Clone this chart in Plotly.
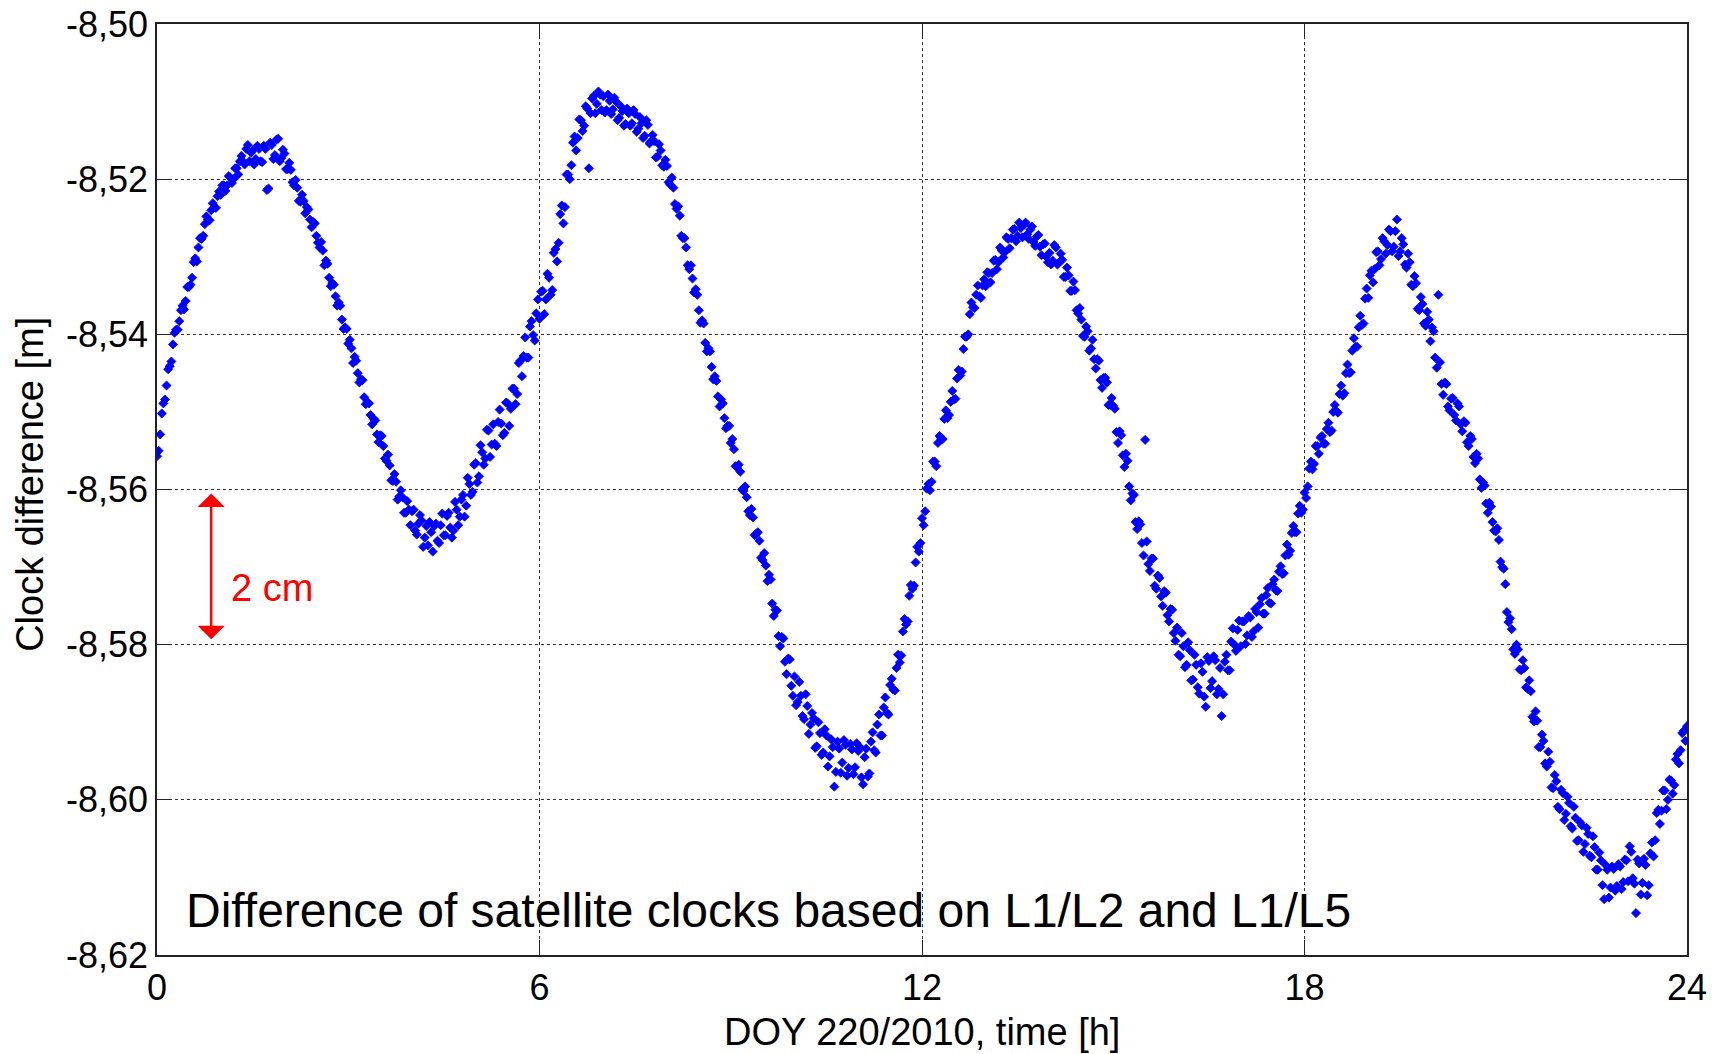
import plotly.graph_objects as go

# Sample spacing of the clock-difference series (hours)
SAMPLE_STEP_H = 0.05
OFFSET_B_H = 0.025

# Clock difference [m], epochs 0.00, 0.05, 0.10 ... h
clock_00_06 = [
    -8.5557, -8.5529, -8.5489, -8.5466, -8.5441, -8.5413, -8.5394, -8.5383, -8.5363, -8.5357,
    -8.5339, -8.5327, -8.5302, -8.5288, -8.5277, -8.5258, -8.5252, -8.5240, -8.5236, -8.5222,
    -8.5220, -8.5208, -8.5208, -8.5198, -8.5200, -8.5186, -8.5177, -8.5177, -8.5161, -8.5177,
    -8.5163, -8.5174, -8.5161, -8.5178, -8.5161, -8.5212, -8.5156, -8.5169, -8.5148, -8.5173,
    -8.5167, -8.5187, -8.5188, -8.5208, -8.5211, -8.5229, -8.5228, -8.5236, -8.5252, -8.5255,
    -8.5273, -8.5288, -8.5292, -8.5305, -8.5327, -8.5334, -8.5351, -8.5359, -8.5381, -8.5391,
    -8.5412, -8.5418, -8.5429, -8.5450, -8.5458, -8.5481, -8.5487, -8.5504, -8.5509, -8.5529,
    -8.5530, -8.5544, -8.5563, -8.5569, -8.5589, -8.5590, -8.5609, -8.5610, -8.5630, -8.5626,
    -8.5628, -8.5653, -8.5644, -8.5640, -8.5662, -8.5672, -8.5655, -8.5647, -8.5666, -8.5646,
    -8.5659, -8.5634, -8.5649, -8.5653, -8.5626, -8.5635, -8.5607, -8.5621, -8.5593, -8.5603,
    -8.5566, -8.5583, -8.5552, -8.5560, -8.5524, -8.5542, -8.5541, -8.5513, -8.5515, -8.5527,
    -8.5489, -8.5496, -8.5470, -8.5477, -8.5434, -8.5428, -8.5430, -8.5390, -8.5401, -8.5373,
]
clock_06_12 = [
    -8.5380, -8.5344, -8.5355, -8.5327, -8.5343, -8.5290, -8.5282, -8.5234, -8.5236, -8.5194,
    -8.5182, -8.5145, -8.5147, -8.5124, -8.5131, -8.5109, -8.5115, -8.5093, -8.5103, -8.5091,
    -8.5093, -8.5111, -8.5099, -8.5110, -8.5100, -8.5121, -8.5112, -8.5129, -8.5115, -8.5128,
    -8.5116, -8.5135, -8.5128, -8.5144, -8.5130, -8.5151, -8.5151, -8.5171, -8.5163, -8.5184,
    -8.5183, -8.5207, -8.5211, -8.5238, -8.5247, -8.5276, -8.5288, -8.5316, -8.5328, -8.5342,
    -8.5369, -8.5382, -8.5411, -8.5418, -8.5442, -8.5454, -8.5480, -8.5484, -8.5508, -8.5518,
    -8.5540, -8.5548, -8.5571, -8.5577, -8.5602, -8.5610, -8.5633, -8.5636, -8.5657, -8.5666,
    -8.5691, -8.5698, -8.5710, -8.5747, -8.5755, -8.5789, -8.5790, -8.5822, -8.5818, -8.5853,
    -8.5841, -8.5874, -8.5866, -8.5896, -8.5879, -8.5903, -8.5895, -8.5931, -8.5914, -8.5939,
    -8.5917, -8.5944, -8.5932, -8.5964, -8.5934, -8.5952, -8.5929, -8.5959, -8.5935, -8.5958,
    -8.5937, -8.5971, -8.5945, -8.5970, -8.5925, -8.5936, -8.5903, -8.5917, -8.5881, -8.5888,
    -8.5852, -8.5858, -8.5830, -8.5823, -8.5783, -8.5774, -8.5737, -8.5728, -8.5694, -8.5680,
]
clock_12_18 = [
    -8.5637, -8.5628, -8.5593, -8.5590, -8.5564, -8.5540, -8.5535, -8.5509, -8.5508, -8.5487,
    -8.5484, -8.5457, -8.5453, -8.5419, -8.5403, -8.5374, -8.5365, -8.5349, -8.5351, -8.5337,
    -8.5338, -8.5321, -8.5321, -8.5304, -8.5307, -8.5292, -8.5294, -8.5277, -8.5276, -8.5264,
    -8.5273, -8.5263, -8.5259, -8.5271, -8.5265, -8.5281, -8.5274, -8.5287, -8.5284, -8.5300,
    -8.5295, -8.5305, -8.5288, -8.5307, -8.5304, -8.5326, -8.5324, -8.5344, -8.5343, -8.5373,
    -8.5381, -8.5403, -8.5396, -8.5418, -8.5432, -8.5432, -8.5459, -8.5456, -8.5462, -8.5491,
    -8.5492, -8.5526, -8.5525, -8.5556, -8.5554, -8.5596, -8.5605, -8.5642, -8.5641, -8.5669,
    -8.5536, -8.5696, -8.5689, -8.5724, -8.5711, -8.5738, -8.5731, -8.5762, -8.5754, -8.5785,
    -8.5778, -8.5815, -8.5802, -8.5826, -8.5807, -8.5845, -8.5826, -8.5863, -8.5835, -8.5880,
    -8.5821, -8.5847, -8.5820, -8.5857, -8.5892, -8.5822, -8.5833, -8.5796, -8.5800, -8.5781,
    -8.5802, -8.5770, -8.5788, -8.5765, -8.5783, -8.5758, -8.5748, -8.5760, -8.5736, -8.5746,
    -8.5722, -8.5730, -8.5706, -8.5709, -8.5685, -8.5684, -8.5656, -8.5655, -8.5631, -8.5630,
]
clock_18_24 = [
    -8.5604, -8.5596, -8.5564, -8.5567, -8.5544, -8.5533, -8.5541, -8.5522, -8.5526, -8.5500,
    -8.5499, -8.5477, -8.5479, -8.5450, -8.5450, -8.5421, -8.5416, -8.5391, -8.5388, -8.5354,
    -8.5353, -8.5318, -8.5316, -8.5293, -8.5303, -8.5280, -8.5285, -8.5267, -8.5287, -8.5252,
    -8.5293, -8.5284, -8.5314, -8.5307, -8.5338, -8.5334, -8.5369, -8.5361, -8.5389, -8.5381,
    -8.5391, -8.5430, -8.5349, -8.5464, -8.5462, -8.5493, -8.5483, -8.5504, -8.5489, -8.5516,
    -8.5512, -8.5539, -8.5531, -8.5558, -8.5554, -8.5587, -8.5591, -8.5618, -8.5617, -8.5642,
    -8.5654, -8.5665, -8.5700, -8.5722, -8.5771, -8.5780, -8.5812, -8.5806, -8.5833, -8.5830,
    -8.5857, -8.5860, -8.5899, -8.5898, -8.5932, -8.5924, -8.5957, -8.5951, -8.5985, -8.5976,
    -8.6012, -8.5991, -8.6018, -8.6004, -8.6037, -8.6023, -8.6052, -8.6033, -8.6057, -8.6044,
    -8.6074, -8.6061, -8.6090, -8.6078, -8.6128, -8.6090, -8.6113, -8.6089, -8.6111, -8.6086,
    -8.6106, -8.6078, -8.6060, -8.6101, -8.6146, -8.6082, -8.6107, -8.6084, -8.6110, -8.6055,
    -8.6052, -8.6013, -8.6014, -8.5988, -8.6000, -8.5975, -8.5981, -8.5941, -8.5936, -8.5911,
    -8.5905,
]

# Clock difference [m], epochs 0.025, 0.075, 0.125 ... h
clock_b_00_06 = [
    -8.5550, -8.5502, -8.5484, -8.5445, -8.5435, -8.5398, -8.5394, -8.5369, -8.5368, -8.5339,
    -8.5336, -8.5307, -8.5306, -8.5276, -8.5273, -8.5248, -8.5253, -8.5231, -8.5237, -8.5216,
    -8.5208, -8.5215, -8.5196, -8.5205, -8.5186, -8.5194, -8.5170, -8.5181, -8.5156, -8.5166,
    -8.5181, -8.5157, -8.5177, -8.5157, -8.5214, -8.5153, -8.5174, -8.5149, -8.5177, -8.5162,
    -8.5187, -8.5179, -8.5204, -8.5201, -8.5228, -8.5220, -8.5244, -8.5239, -8.5262, -8.5257,
    -8.5282, -8.5281, -8.5311, -8.5309, -8.5338, -8.5336, -8.5363, -8.5363, -8.5393, -8.5393,
    -8.5407, -8.5437, -8.5434, -8.5462, -8.5459, -8.5490, -8.5489, -8.5516, -8.5511, -8.5539,
    -8.5531, -8.5560, -8.5555, -8.5588, -8.5580, -8.5613, -8.5601, -8.5630, -8.5615, -8.5646,
    -8.5626, -8.5658, -8.5633, -8.5674, -8.5647, -8.5642, -8.5680, -8.5644, -8.5669, -8.5631,
    -8.5659, -8.5630, -8.5662, -8.5616, -8.5646, -8.5613, -8.5635, -8.5585, -8.5607, -8.5568,
    -8.5591, -8.5543, -8.5568, -8.5523, -8.5558, -8.5516, -8.5544, -8.5497, -8.5530, -8.5488,
    -8.5518, -8.5470, -8.5490, -8.5437, -8.5454, -8.5404, -8.5430, -8.5383, -8.5408, -8.5355,
]
clock_b_06_12 = [
    -8.5345, -8.5374, -8.5322, -8.5349, -8.5295, -8.5306, -8.5245, -8.5257, -8.5194, -8.5200,
    -8.5153, -8.5163, -8.5123, -8.5138, -8.5106, -8.5186, -8.5096, -8.5115, -8.5087, -8.5111,
    -8.5114, -8.5091, -8.5116, -8.5095, -8.5124, -8.5106, -8.5131, -8.5109, -8.5131, -8.5111,
    -8.5139, -8.5120, -8.5147, -8.5124, -8.5154, -8.5143, -8.5172, -8.5155, -8.5182, -8.5175,
    -8.5204, -8.5198, -8.5232, -8.5235, -8.5273, -8.5276, -8.5311, -8.5311, -8.5346, -8.5349,
    -8.5385, -8.5386, -8.5422, -8.5422, -8.5458, -8.5460, -8.5493, -8.5489, -8.5521, -8.5518,
    -8.5535, -8.5570, -8.5568, -8.5600, -8.5596, -8.5628, -8.5625, -8.5659, -8.5655, -8.5688,
    -8.5682, -8.5718, -8.5716, -8.5763, -8.5756, -8.5802, -8.5792, -8.5838, -8.5819, -8.5866,
    -8.5878, -8.5848, -8.5892, -8.5864, -8.5915, -8.5888, -8.5933, -8.5900, -8.5942, -8.5909,
    -8.5957, -8.5922, -8.5983, -8.5925, -8.5965, -8.5923, -8.5969, -8.5928, -8.5967, -8.5927,
    -8.5932, -8.5980, -8.5934, -8.5966, -8.5913, -8.5939, -8.5890, -8.5917, -8.5868, -8.5890,
    -8.5844, -8.5859, -8.5813, -8.5814, -8.5767, -8.5770, -8.5723, -8.5724, -8.5674, -8.5669,
]
clock_b_12_18 = [
    -8.5646, -8.5599, -8.5601, -8.5564, -8.5570, -8.5531, -8.5535, -8.5498, -8.5504, -8.5473,
    -8.5483, -8.5446, -8.5448, -8.5403, -8.5400, -8.5359, -8.5366, -8.5337, -8.5353, -8.5329,
    -8.5320, -8.5333, -8.5305, -8.5316, -8.5288, -8.5301, -8.5275, -8.5289, -8.5265, -8.5280,
    -8.5256, -8.5275, -8.5256, -8.5277, -8.5261, -8.5286, -8.5272, -8.5298, -8.5283, -8.5307,
    -8.5310, -8.5285, -8.5310, -8.5296, -8.5326, -8.5314, -8.5344, -8.5332, -8.5369, -8.5366,
    -8.5402, -8.5390, -8.5421, -8.5407, -8.5444, -8.5434, -8.5469, -8.5456, -8.5491, -8.5482,
    -8.5496, -8.5540, -8.5530, -8.5571, -8.5563, -8.5614, -8.5607, -8.5651, -8.5645, -8.5685,
    -8.5667, -8.5705, -8.5689, -8.5728, -8.5714, -8.5750, -8.5733, -8.5770, -8.5755, -8.5795,
    -8.5813, -8.5785, -8.5829, -8.5797, -8.5846, -8.5813, -8.5855, -8.5824, -8.5867, -8.5816,
    -8.5856, -8.5815, -8.5864, -8.5830, -8.5864, -8.5813, -8.5833, -8.5779, -8.5808, -8.5769,
    -8.5770, -8.5799, -8.5763, -8.5790, -8.5754, -8.5778, -8.5740, -8.5760, -8.5727, -8.5747,
    -8.5716, -8.5731, -8.5699, -8.5708, -8.5671, -8.5679, -8.5647, -8.5655, -8.5621, -8.5626,
]
clock_b_18_24 = [
    -8.5611, -8.5573, -8.5574, -8.5544, -8.5554, -8.5531, -8.5541, -8.5514, -8.5524, -8.5491,
    -8.5501, -8.5466, -8.5476, -8.5439, -8.5449, -8.5405, -8.5416, -8.5376, -8.5386, -8.5341,
    -8.5324, -8.5333, -8.5294, -8.5311, -8.5276, -8.5296, -8.5265, -8.5293, -8.5267, -8.5299,
    -8.5276, -8.5310, -8.5296, -8.5336, -8.5325, -8.5367, -8.5352, -8.5386, -8.5371, -8.5409,
    -8.5396, -8.5443, -8.5436, -8.5478, -8.5464, -8.5498, -8.5482, -8.5511, -8.5493, -8.5525,
    -8.5514, -8.5544, -8.5535, -8.5566, -8.5560, -8.5598, -8.5595, -8.5630, -8.5622, -8.5653,
    -8.5650, -8.5693, -8.5702, -8.5758, -8.5766, -8.5806, -8.5800, -8.5832, -8.5820, -8.5855,
    -8.5846, -8.5893, -8.5886, -8.5932, -8.5916, -8.5953, -8.5938, -8.5984, -8.5968, -8.6009,
    -8.5987, -8.6026, -8.5996, -8.6034, -8.6009, -8.6053, -8.6029, -8.6067, -8.6036, -8.6072,
    -8.6047, -8.6090, -8.6068, -8.6110, -8.6084, -8.6126, -8.6086, -8.6117, -8.6083, -8.6115,
    -8.6077, -8.6105, -8.6067, -8.6108, -8.6077, -8.6122, -8.6076, -8.6123, -8.6069, -8.6073,
    -8.6017, -8.6031, -8.5988, -8.6012, -8.5974, -8.5992, -8.5948, -8.5953, -8.5914, -8.5924,
]

x_ticks = [0, 6, 12, 18, 24]
y_ticks = [-8.62, -8.60, -8.58, -8.56, -8.54, -8.52, -8.50]
y_tick_labels = ["-8,62", "-8,60", "-8,58", "-8,56", "-8,54", "-8,52", "-8,50"]
x_title = "DOY 220/2010, time [h]"
y_title = "Clock difference [m]"
caption = "Difference of satellite clocks based on L1/L2 and L1/L5"
scale_label = "2 cm"
scale_top, scale_bottom = -8.56, -8.58

clock_a = clock_00_06 + clock_06_12 + clock_12_18 + clock_18_24
clock_b = clock_b_00_06 + clock_b_06_12 + clock_b_12_18 + clock_b_18_24
hours_a = [i * SAMPLE_STEP_H for i in range(len(clock_a))]
hours_b = [OFFSET_B_H + i * SAMPLE_STEP_H for i in range(len(clock_b))]
hours = hours_a + hours_b
clock = clock_a + clock_b

FONT = "Liberation Sans, Arial, sans-serif"

fig = go.Figure()
fig.add_trace(go.Scatter(
    x=hours, y=clock, mode="markers",
    marker=dict(symbol="diamond", size=7, color="rgb(0,0,255)",
                line=dict(width=0.8, color="rgb(0,0,255)")),
    showlegend=False, hoverinfo="x+y",
))

axis_common = dict(
    showline=True, linecolor="#222", linewidth=1.5, mirror="ticks",
    ticks="inside", ticklen=15, tickwidth=1.2, tickcolor="#222",
    showgrid=True, gridcolor="#333", griddash="dot", gridwidth=1,
    zeroline=False, automargin=False, ticklabeloverflow="allow",
    tickfont=dict(family=FONT, size=36, color="black"),
)

fig.update_xaxes(range=[0, 24], tickvals=x_ticks, ticktext=[str(v) for v in x_ticks],
                 **axis_common)
fig.update_yaxes(range=[-8.62, -8.50], tickvals=y_ticks, ticktext=y_tick_labels,
                 **axis_common)

annotations = [
    dict(x=0.5, y=-0.083, xref="paper", yref="paper", text=x_title, showarrow=False,
         xanchor="center", yanchor="middle", font=dict(family=FONT, size=38, color="black")),
    dict(x=-0.083, y=0.505, xref="paper", yref="paper", text=y_title, showarrow=False,
         textangle=-90, xanchor="center", yanchor="middle",
         font=dict(family=FONT, size=38, color="black")),
    dict(x=0.42, y=-8.6143, xref="x", yref="y", text=caption, showarrow=False,
         xanchor="left", yanchor="middle", font=dict(family=FONT, size=48, color="black")),
    dict(x=1.13, y=-8.5727, xref="x", yref="y", text=scale_label, showarrow=False,
         xanchor="left", yanchor="middle", font=dict(family=FONT, size=38, color="red")),
    dict(x=0.85, y=scale_top - 0.0005, ax=0.85, ay=scale_bottom + 0.0005,
         xref="x", yref="y", axref="x", ayref="y", text="", showarrow=True,
         arrowhead=1, arrowside="end+start", arrowsize=1.8, arrowwidth=2.5,
         arrowcolor="red"),
]

fig.update_layout(
    width=1721, height=1054,
    margin=dict(l=157, r=34, t=24, b=99),
    paper_bgcolor="white", plot_bgcolor="white",
    annotations=annotations,
    font=dict(family=FONT, color="black"),
)

fig.write_html(
    "out.html",
    config={"responsive": False, "displayModeBar": False},
    post_script="document.body.style.margin='0';document.body.style.padding='0';"
                "document.body.style.overflow='hidden';",
)
